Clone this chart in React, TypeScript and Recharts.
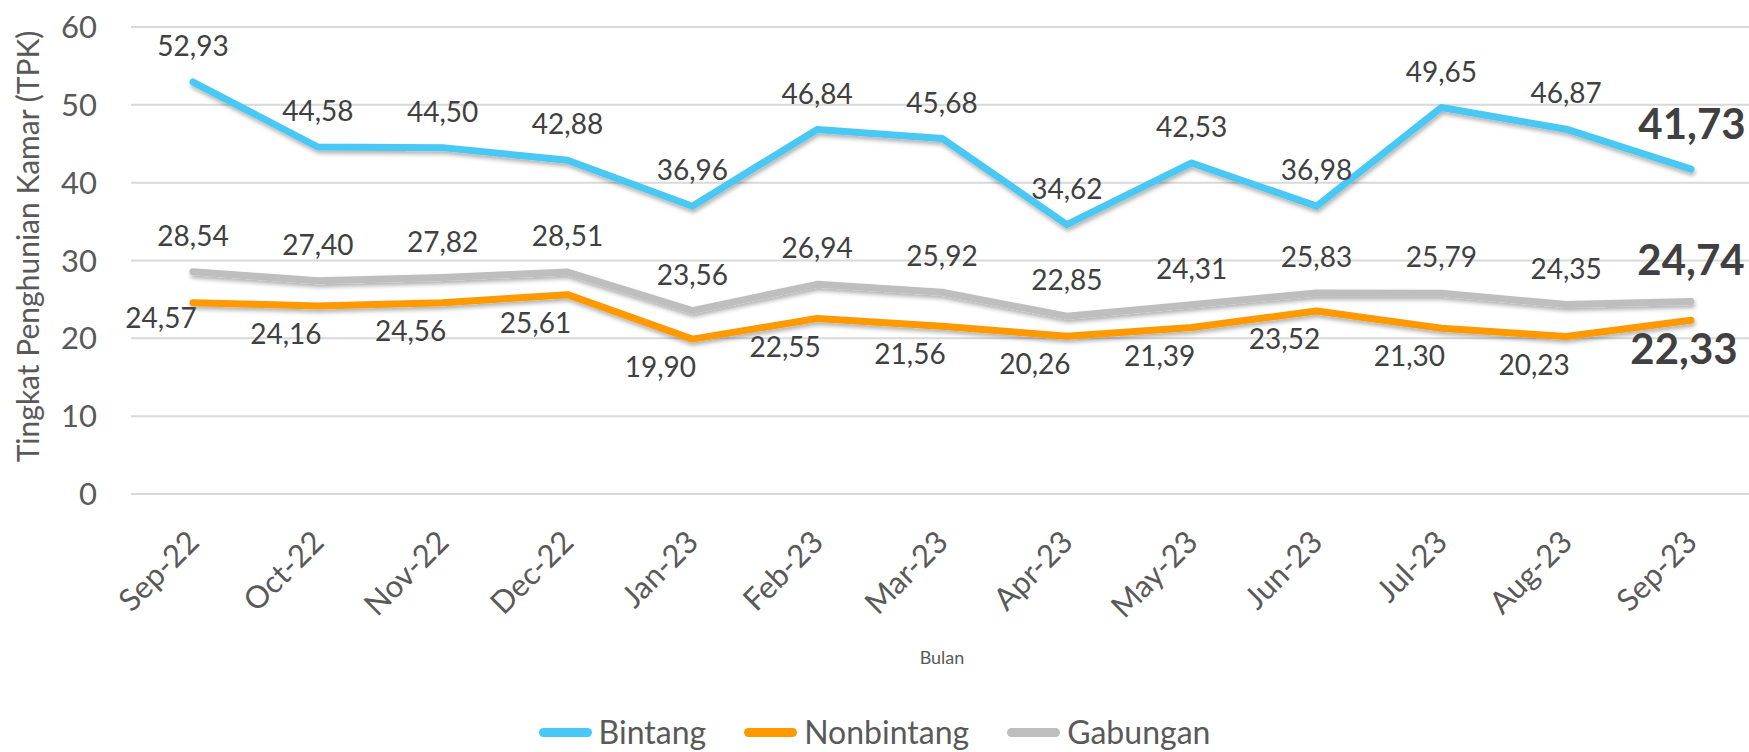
import { LineChart, Line, XAxis, YAxis, CartesianGrid, Legend, LabelList } from 'recharts';

const months = ['Sep-22', 'Oct-22', 'Nov-22', 'Dec-22', 'Jan-23', 'Feb-23', 'Mar-23', 'Apr-23', 'May-23', 'Jun-23', 'Jul-23', 'Aug-23', 'Sep-23'];
const bintang = [52.93, 44.58, 44.5, 42.88, 36.96, 46.84, 45.68, 34.62, 42.53, 36.98, 49.65, 46.87, 41.73];
const nonbintang = [24.57, 24.16, 24.56, 25.61, 19.9, 22.55, 21.56, 20.26, 21.39, 23.52, 21.3, 20.23, 22.33];
const gabungan = [28.54, 27.4, 27.82, 28.51, 23.56, 26.94, 25.92, 22.85, 24.31, 25.83, 25.79, 24.35, 24.74];
const yTicks = [0, 10, 20, 30, 40, 50, 60];

const data = months.map((m, i) => ({
  bulan: m,
  Bintang: bintang[i],
  Nonbintang: nonbintang[i],
  Gabungan: gabungan[i],
}));

const FONT = 'Lato, "Open Sans", sans-serif';
const series = [
  { key: 'Bintang', color: '#48C8F4' },
  { key: 'Nonbintang', color: '#FF9900' },
  { key: 'Gabungan', color: '#BEBEBE' },
];

const fmt = (v: number) => v.toFixed(2).replace('.', ',');
const last = months.length - 1;

// label placement per series: normal (dx, dy of text centre) and the bold last point
const labelPlace: Record<string, { dx: number; dy: number; ldx: number; ldy: number }> = {
  Bintang: { dx: 0, dy: -36, ldx: 1, ldy: -45 },
  Gabungan: { dx: 0, dy: -36, ldx: 0, ldy: -42 },
  Nonbintang: { dx: -32, dy: 28, ldx: -7, ldy: 29 },
};

const makeLabel = (key: string) => (props: any) => {
  const { x, y, value, index } = props;
  const p = labelPlace[key];
  const isLast = index === last;
  let dy = isLast ? p.ldy : p.dy;
  if (key === 'Nonbintang' && index === 0) dy = 15;
  const size = isLast ? 42 : 28;
  return (
    <text
      x={x + (isLast ? p.ldx : p.dx)}
      y={y + dy + size * 0.36}
      textAnchor="middle"
      fontFamily={FONT}
      fontSize={size}
      fontWeight={isLast ? 700 : 400}
      fill="#404040"
    >
      {fmt(value)}
    </text>
  );
};

const XTick = (props: any) => {
  const { x, y, payload } = props;
  const tx = x + 8;
  const ty = y + 50;
  return (
    <text x={tx} y={ty} transform={`rotate(-45, ${tx}, ${ty})`} textAnchor="end" fontFamily={FONT} fontSize={31} fill="#595959">
      {payload.value}
    </text>
  );
};

const YTitle = (props: any) => {
  const vb = props.viewBox;
  const cx = 39;
  const cy = vb.y + vb.height / 2 - 14;
  return (
    <text x={cx} y={cy} transform={`rotate(-90, ${cx}, ${cy})`} textAnchor="middle" fontFamily={FONT} fontSize={30} fill="#595959">
      Tingkat Penghunian Kamar (TPK)
    </text>
  );
};

const XTitle = (props: any) => {
  const vb = props.viewBox;
  return (
    <text x={vb.x + vb.width / 2} y={vb.y + vb.height} textAnchor="middle" fontFamily={FONT} fontSize={18} fill="#595959">
      Bulan
    </text>
  );
};

const LegendContent = () => (
  <div
    style={{
      display: 'flex',
      justifyContent: 'center',
      alignItems: 'center',
      height: 40,
      lineHeight: '40px',
      fontFamily: FONT,
      fontSize: 32,
      color: '#595959',
    }}
  >
    {series.map((s, i) => (
      <div key={s.key} style={{ display: 'flex', alignItems: 'center', marginRight: i < series.length - 1 ? 38 : 0 }}>
        <span style={{ display: 'inline-block', width: 53, height: 9, borderRadius: 5, background: s.color, marginRight: 7 }} />
        <span>{s.key}</span>
      </div>
    ))}
  </div>
);

export default function App() {
  return (
    <div style={{ position: 'absolute', left: 0, top: 0, width: 1749, height: 752, overflow: 'hidden', background: '#fff' }}>
      <LineChart width={1753} height={752} data={data} margin={{ top: 27, right: 0, bottom: 48, left: 0 }}>
        <defs>
          <filter id="lineShadow" filterUnits="userSpaceOnUse" x="0" y="0" width="1800" height="800">
            <feDropShadow dx="1" dy="3" stdDeviation="2" floodColor="#000" floodOpacity="0.3" />
          </filter>
        </defs>
        <CartesianGrid vertical={false} stroke="#D9D9D9" strokeWidth={2} />
        <XAxis
          dataKey="bulan"
          axisLine={false}
          tickLine={false}
          tickSize={0}
          tickMargin={0}
          height={170}
          interval={0}
          padding={{ left: 62, right: 62 }}
          tick={<XTick />}
          label={<XTitle />}
        />
        <YAxis
          domain={[0, 60]}
          ticks={yTicks}
          axisLine={false}
          tickLine={false}
          tickSize={0}
          tickMargin={34}
          width={131}
          tick={{ fontFamily: FONT, fontSize: 31, fill: '#595959' }}
          label={<YTitle />}
        />
        <Legend
          verticalAlign="bottom"
          content={<LegendContent />}
          wrapperStyle={{ top: 712, bottom: 'auto', left: 0, width: 1749 }}
        />
        {series.map((s) => (
          <Line
            key={s.key}
            type="linear"
            dataKey={s.key}
            stroke={s.color}
            strokeWidth={7}
            strokeLinecap="round"
            strokeLinejoin="round"
            dot={false}
            activeDot={false}
            filter="url(#lineShadow)"
            isAnimationActive={false}
          >
            <LabelList dataKey={s.key} content={makeLabel(s.key)} />
          </Line>
        ))}
      </LineChart>
    </div>
  );
}
